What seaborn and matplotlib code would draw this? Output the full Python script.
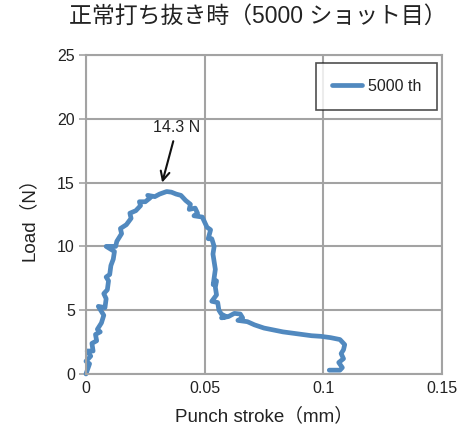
import matplotlib
matplotlib.use("Agg")
import matplotlib.pyplot as plt
import seaborn as sns
import pandas as pd

# Load-stroke record of a normal punching cycle (5000th shot)
stroke_mm = [
    0.000, 0.0015, 0.000, 0.002, 0.0005, 0.003, 0.0025, 0.0045, 0.004, 0.006,
    0.0048, 0.0065, 0.0075, 0.0052, 0.008, 0.0085, 0.0075, 0.009, 0.0095, 0.0085,
    0.010, 0.0105, 0.0115, 0.012, 0.0085, 0.0125, 0.013, 0.015, 0.0145, 0.017,
    0.019, 0.0185, 0.021, 0.023, 0.0225, 0.025, 0.027, 0.026, 0.029, 0.031,
    0.034, 0.036, 0.038, 0.040, 0.042, 0.044, 0.0435, 0.046, 0.047, 0.0455,
    0.049, 0.050, 0.051, 0.0525, 0.0515, 0.053, 0.054, 0.0535, 0.054, 0.0545,
    0.0536, 0.055, 0.0545, 0.055, 0.053, 0.0555, 0.056, 0.057, 0.059, 0.0571,
    0.060, 0.0625, 0.065, 0.066, 0.064, 0.068, 0.071, 0.075, 0.079, 0.083,
    0.087, 0.091, 0.095, 0.099, 0.103, 0.107, 0.109, 0.1085, 0.1075, 0.1085,
    0.1065, 0.108, 0.107, 0.1025,
]
load_n = [
    0.0, 0.8, 1.0, 1.4, 1.8, 1.8, 2.4, 2.6, 3.1, 3.3,
    3.5, 4.0, 4.6, 5.3, 5.2, 5.9, 6.3, 6.6, 7.3, 7.6,
    7.8, 8.5, 9.0, 9.6, 10.0, 10.0, 10.4, 11.0, 11.4, 11.7,
    12.2, 12.6, 12.8, 13.2, 13.5, 13.5, 13.8, 14.0, 13.9, 14.1,
    14.3, 14.25, 14.1, 14.0, 13.6, 13.3, 12.9, 13.0, 12.6, 12.4,
    12.3, 11.9, 11.5, 11.3, 10.6, 10.6, 10.0, 9.4, 8.8, 8.2,
    7.0, 7.3, 6.8, 6.2, 5.7, 5.6, 5.0, 4.7, 4.5, 4.4,
    4.5, 4.75, 4.7, 4.4, 4.2, 4.1, 3.85, 3.6, 3.45, 3.3,
    3.2, 3.1, 3.0, 2.95, 2.85, 2.7, 2.3, 1.9, 1.6, 1.2,
    0.9, 0.5, 0.3, 0.3,
]

series_name = "5000 th"
x_ticks = [0, 0.05, 0.10, 0.15]
x_tick_labels = ["0", "0.05", "0.1", "0.15"]
y_ticks = [0, 5, 10, 15, 20, 25]
y_tick_labels = ["0", "5", "10", "15", "20", "25"]
peak_label = "14.3 N"
peak_load = 14.3
peak_stroke = 0.0321

title_text = "正常打ち抜き時（5000 ショット目）"
x_label = "Punch stroke（mm）"
y_label = "Load（N）"

sns.set_theme(style="white")
plt.rcParams["font.family"] = ["Liberation Sans", "Noto Sans CJK JP"]

df = pd.DataFrame({"stroke": stroke_mm, "load": load_n, "series": series_name})

fig = plt.figure(figsize=(4.64, 4.37), dpi=100)
ax = fig.add_axes([0.1853, 0.1442, 0.7673, 0.7299])

line_color = "#5189bf"
grid_color = "#a3a3a3"
text_color = "#222222"

sns.lineplot(data=df, x="stroke", y="load", hue="series", palette=[line_color],
             sort=False, estimator=None, linewidth=3.4, ax=ax)
for ln in ax.lines:
    ln.set_clip_on(False)
    ln.set_solid_joinstyle("round")

ax.set_xlim(0, 0.15)
ax.set_ylim(0, 25)
ax.set_xticks(x_ticks)
ax.set_xticklabels(x_tick_labels)
ax.set_yticks(y_ticks)
ax.set_yticklabels(y_tick_labels)
ax.tick_params(axis="both", labelsize=11.5, colors=text_color, pad=3)
ax.tick_params(axis="y", length=5, width=1.2, color=grid_color, direction="out", left=True)
ax.tick_params(axis="x", length=0, pad=5)

ax.grid(True, color=grid_color, linewidth=1.5)
ax.set_axisbelow(True)
for sp in ax.spines.values():
    sp.set_color(grid_color)
    sp.set_linewidth(1.5)

ax.set_xlabel(x_label, fontsize=13.5, color=text_color, labelpad=8)
ax.set_ylabel(y_label, fontsize=13.5, color=text_color, labelpad=14)
fig.suptitle(title_text, fontsize=16.5, color=text_color, x=0.555, y=0.99, va="top")

ax.annotate(peak_label, xy=(peak_stroke, peak_load + 0.7), xytext=(0.0383, 19.3),
            ha="center", va="center", fontsize=11.5, color=text_color,
            arrowprops=dict(arrowstyle="->", color="#111111", lw=1.5,
                            mutation_scale=16, shrinkA=2, shrinkB=0))

leg = ax.legend(loc="upper right", bbox_to_anchor=(0.986, 0.975), borderaxespad=0,
                fontsize=11.5, frameon=True, fancybox=False, handlelength=1.9,
                borderpad=1.0, handletextpad=0.35)
leg.get_frame().set_edgecolor(text_color)
leg.get_frame().set_linewidth(1.2)
for t in leg.get_texts():
    t.set_color(text_color)

fig.savefig("out.png", dpi=100, facecolor="white")
